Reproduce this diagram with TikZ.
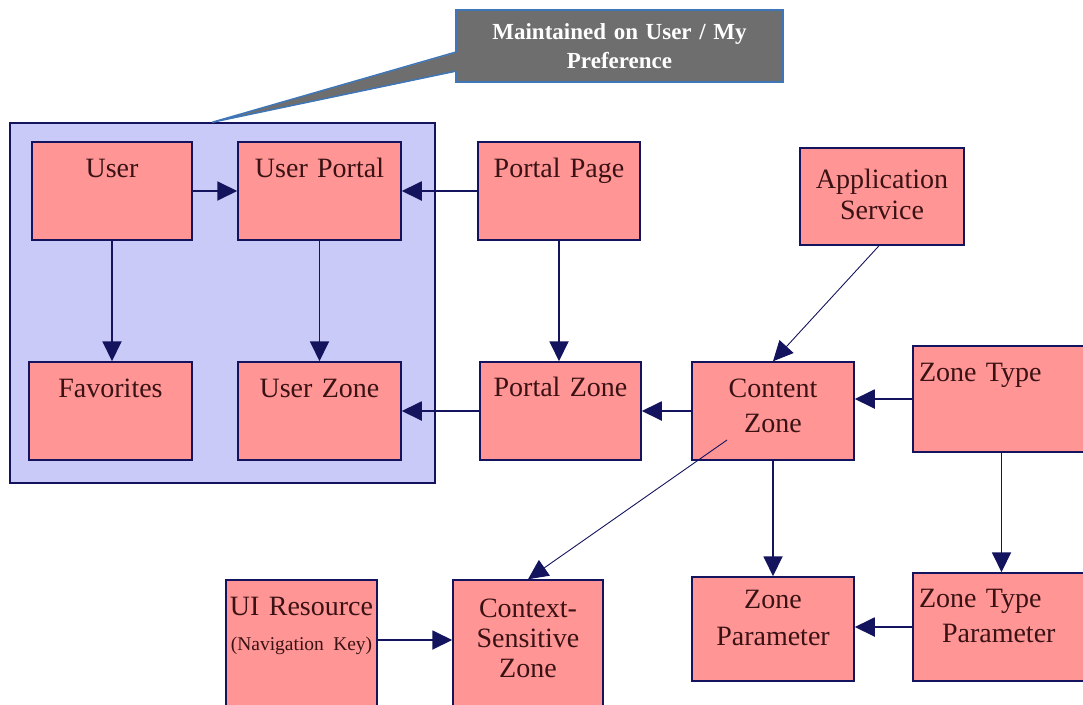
\documentclass[tikz,border=0pt]{standalone}
\usepackage{fontspec}
\setmainfont{Liberation Serif}
\usetikzlibrary{arrows.meta}
\definecolor{navy}{HTML}{14145E}
\definecolor{boxfill}{HTML}{FF9595}
\definecolor{grpfill}{HTML}{CACAF9}
\definecolor{txt}{HTML}{3A1214}
\definecolor{calgray}{HTML}{6E6E6E}
\definecolor{calblue}{HTML}{3F76B8}
\tikzset{
  ebox/.style={draw=navy, fill=boxfill, line width=1.5pt, inner sep=0pt, align=center,
    text=txt, font=\fontsize{28}{35}\selectfont},
  dims/.style n args={3}{text width=#1pt, text height=#2pt, text depth=#3pt},
  arr/.style={draw=navy, line width=1.9pt, -{Triangle[length=20pt,width=19pt]}},
  thinarr/.style={draw=navy, line width=0.9pt, -{Triangle[length=20pt,width=19pt]}},
}
\begin{document}
\begin{tikzpicture}[x=1pt,y=-1pt]
\useasboundingbox (0,0) rectangle (1083,704);
% group container
\node[draw=navy, fill=grpfill, line width=1.5pt, minimum width=425pt, minimum height=360pt, inner sep=0pt]
  (grp) at (222.5,303) {};
% callout
\node[draw=calblue, fill=calgray, line width=1.5pt, inner sep=0pt, align=center, text=white,
  font=\bfseries\fontsize{23}{29}\selectfont, dims={327}{29}{43}]
  (note) at (619.5,46) {Maintained on User / My\\Preference};
\coordinate (tip) at ([xshift=203pt]grp.north west);
\coordinate (w1) at ([yshift=-43pt]note.north west);
\coordinate (w2) at ([yshift=-62pt]note.north west);
\fill[calgray] ([xshift=2pt]w1) -- (tip) -- ([xshift=2pt]w2) -- cycle;
\draw[calblue, line width=1.5pt, line join=miter] (w1) -- (tip) -- (w2);
% boxes
\node[ebox, dims={160}{35}{63}] (user) at (112,191) {User};
\node[ebox, dims={163}{35}{63}] (uportal) at (319.5,191) {User Portal};
\node[ebox, dims={162}{35}{63}] (ppage) at (559,191) {Portal Page};
\node[ebox, dims={164}{40}{57}, font=\fontsize{28}{31}\selectfont] (appsvc) at (882,196.5) {Application\\Service};
\node[ebox, dims={163}{35}{63}] (fav) at (110.5,411) {Favorites};
\node[ebox, dims={163}{35}{63}] (uzone) at (319.5,411) {User Zone};
\node[ebox, dims={161}{34}{64}] (pzone) at (560.5,411) {Portal Zone};
\node[ebox, dims={162}{35}{63}] (czone) at (773,411) {Content\\Zone};
\node[ebox, dims={165}{35}{71}, align=left, inner xsep=6pt] (ztype) at (1001.5,399) {Zone Type};
\node[ebox, dims={151}{35}{105}] (uires) at (301.5,650)
  {UI Resource\\\fontsize{19.5}{25}\selectfont\mbox{(Navigation Key)}};
\node[ebox, dims={150}{37}{103}, font=\fontsize{28}{30}\selectfont] (csz) at (528,650)
  {Context-\\Sensitive\\Zone};
\node[ebox, dims={162}{31}{73}, font=\fontsize{28}{37}\selectfont] (zparam) at (773,629) {Zone\\Parameter};
\node[ebox, dims={165}{34}{74}, align=left, inner xsep=6pt] (ztparam) at (1001.5,627)
  {Zone Type\\\hspace*{23pt}Parameter};
% connectors
\draw[arr] (user) -- (uportal);
\draw[arr] (ppage) -- (uportal);
\draw[arr] (user.south) -- (user.south |- fav.north);
\draw[arr] (uportal) -- (uzone);
\draw[arr] (ppage.south) -- (ppage.south |- pzone.north);
\draw[arr] (pzone) -- (uzone);
\draw[arr] (czone) -- (pzone);
\draw[arr] (ztype.west) -- (ztype.west -| czone.east);
\draw[arr] (czone) -- (zparam);
\draw[arr] (ztype) -- (ztparam);
\draw[arr] (ztparam.west) -- (ztparam.west -| zparam.east);
\coordinate (uiout) at ([yshift=10pt]uires.east);
\draw[arr] (uiout) -- (uiout -| csz.west);
\draw[thinarr] ([xshift=-3pt]appsvc.south) -- (czone.north);
\coordinate (cstart) at ([xshift=-46pt,yshift=-29pt]czone.center);
\draw[thinarr] (cstart) -- (csz.north);
\end{tikzpicture}
\end{document}
